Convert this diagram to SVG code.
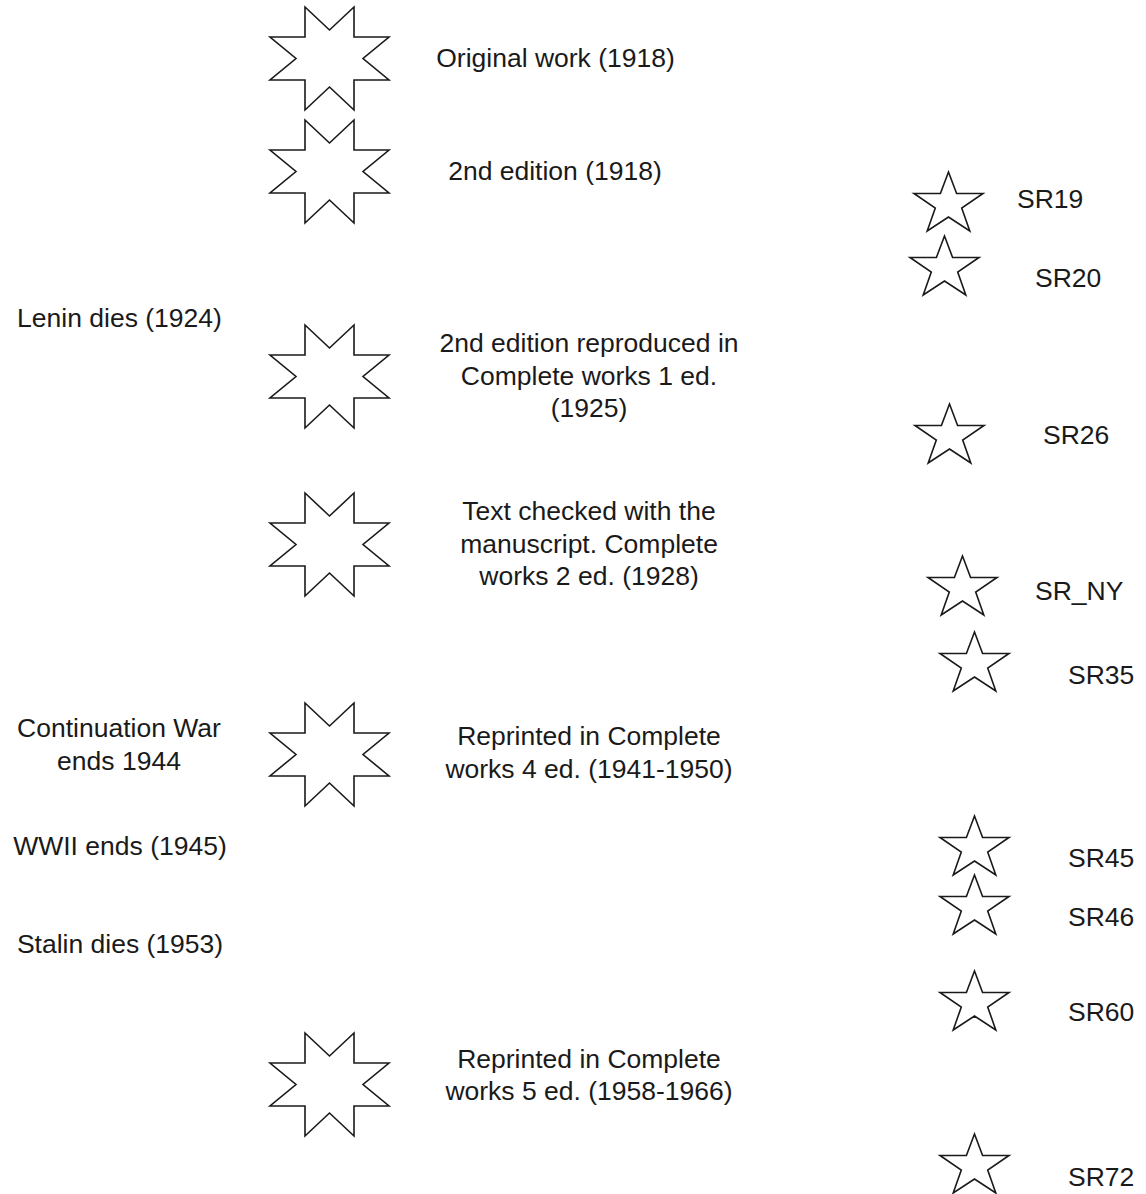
<svg xmlns="http://www.w3.org/2000/svg" xmlns:xlink="http://www.w3.org/1999/xlink" width="1146" height="1194" viewBox="0 0 1146 1194">
<style>
.s8, .s5 { fill: #ffffff; stroke: #1a1a1a; stroke-width: 1.6; stroke-linejoin: miter; }
text { font-family: "Liberation Sans", Arial, Helvetica, sans-serif; font-size: 26.5px; fill: #1a1a1a; }
.c { text-anchor: middle; }
</style>
<defs>
<path id="star8" class="s8" d="M35,0 L59.5,23 L84,0 L84,30 L119,30 L93,51.5 L119,73 L84,73 L84,103 L59.5,80 L35,103 L35,73 L0,73 L26,51.5 L0,30 L35,30 Z"/>
<path id="star5" class="s5" d="M34.5,0 L42.6,21.5 L69,21.5 L47.7,36 L55.8,59 L34.5,45 L13.2,59 L21.3,36 L0,21.5 L26.4,21.5 Z"/>
</defs>
<rect width="1146" height="1194" fill="#ffffff"/>
<g id="connectors"></g>
<g id="n1"><use xlink:href="#star8" x="270" y="7"/><text class="c" x="555.5" y="67">Original work (1918)</text></g>
<g id="n2"><use xlink:href="#star8" x="270" y="120"/><text class="c" x="555" y="180">2nd edition (1918)</text></g>
<g id="n3"><use xlink:href="#star8" x="270" y="325"/><text class="c" x="589"><tspan x="589" y="352">2nd edition reproduced in</tspan><tspan x="589" y="385">Complete works 1 ed.</tspan><tspan x="589" y="417">(1925)</tspan></text></g>
<g id="n4"><use xlink:href="#star8" x="270" y="493"/><text class="c" x="589"><tspan x="589" y="520">Text checked with the</tspan><tspan x="589" y="553">manuscript. Complete</tspan><tspan x="589" y="585">works 2 ed. (1928)</tspan></text></g>
<g id="n5"><use xlink:href="#star8" x="270" y="703"/><text class="c" x="589"><tspan x="589" y="745">Reprinted in Complete</tspan><tspan x="589" y="778">works 4 ed. (1941-1950)</tspan></text></g>
<g id="n6"><use xlink:href="#star8" x="270" y="1033"/><text class="c" x="589"><tspan x="589" y="1068">Reprinted in Complete</tspan><tspan x="589" y="1100">works 5 ed. (1958-1966)</tspan></text></g>
<g id="e1"><text class="c" x="119.5" y="327">Lenin dies (1924)</text></g>
<g id="e2"><text class="c" x="119"><tspan x="119" y="737">Continuation War</tspan><tspan x="119" y="770">ends 1944</tspan></text></g>
<g id="e3"><text class="c" x="120" y="855">WWII ends (1945)</text></g>
<g id="e4"><text class="c" x="120" y="953">Stalin dies (1953)</text></g>
<g id="sr19"><use xlink:href="#star5" x="914" y="172"/><text x="1017" y="208">SR19</text></g>
<g id="sr20"><use xlink:href="#star5" x="910" y="236"/><text x="1035" y="287">SR20</text></g>
<g id="sr26"><use xlink:href="#star5" x="915" y="404"/><text x="1043" y="444">SR26</text></g>
<g id="srny"><use xlink:href="#star5" x="928" y="556"/><text x="1035" y="600">SR_NY</text></g>
<g id="sr35"><use xlink:href="#star5" x="940" y="632"/><text x="1068" y="684">SR35</text></g>
<g id="sr45"><use xlink:href="#star5" x="940" y="816"/><text x="1068" y="867">SR45</text></g>
<g id="sr46"><use xlink:href="#star5" x="940" y="875"/><text x="1068" y="926">SR46</text></g>
<g id="sr60"><use xlink:href="#star5" x="940" y="971"/><text x="1068" y="1021">SR60</text></g>
<g id="sr72"><use xlink:href="#star5" x="940" y="1134"/><text x="1068" y="1186">SR72</text></g>
</svg>
